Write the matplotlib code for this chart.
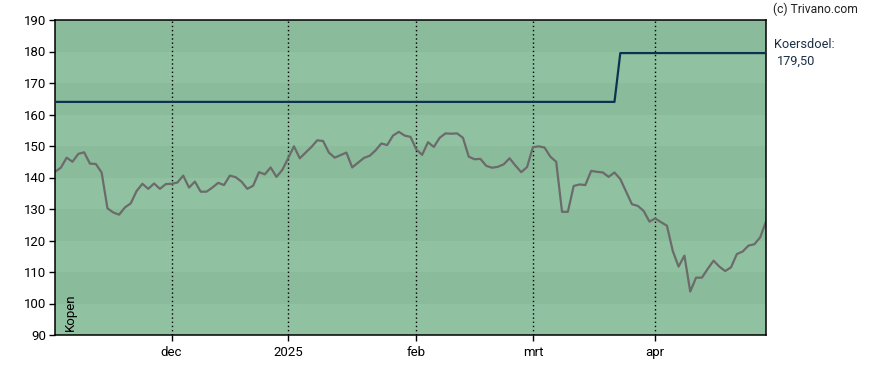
import numpy as np
import matplotlib.pyplot as plt

# koers per handelsdag (index 0 = begin nov 2024)
prices = [
    141.8, 143.1, 146.3, 145.0, 147.5, 148.0, 144.4, 144.3, 141.6, 130.2,
    128.9, 128.2, 130.5, 131.8, 135.7, 138.0, 136.4, 138.1, 136.4, 137.9,
    138.0, 138.4, 140.6, 136.8, 138.7, 135.5, 135.5, 136.8, 138.3, 137.6,
    140.6, 140.1, 138.7, 136.4, 137.4, 141.7, 141.0, 143.2, 140.2, 142.4,
    146.1, 149.9, 146.1, 147.9, 149.7, 151.8, 151.6, 147.9, 146.3, 147.1,
    147.9, 143.2, 144.7, 146.2, 146.9, 148.6, 150.8, 150.3, 153.3, 154.5,
    153.3, 152.9, 148.9, 147.2, 151.2, 149.7, 152.6, 154.0, 153.9, 154.0,
    152.6, 146.6, 145.8, 145.9, 143.7, 143.1, 143.4, 144.2, 146.1, 143.8,
    141.7, 143.3, 149.6, 149.9, 149.5, 146.6, 145.0, 129.1, 129.1, 137.3,
    137.8, 137.6, 142.1, 141.8, 141.6, 140.2, 141.6, 139.5, 135.5, 131.5,
    131.0, 129.4, 126.0, 127.0, 125.8, 124.7, 116.7, 111.7, 115.2, 103.8,
    108.2, 108.2, 111.0, 113.6, 111.7, 110.3, 111.5, 115.7, 116.5, 118.4,
    118.8, 121.0, 126.0,
]
target_old = 164.0
target_new = 179.5
target_change_idx = 97

month_idx = [20, 40, 62, 82, 103]
month_labels = ["dec", "2025", "feb", "mrt", "apr"]
y_ticks = list(range(90, 191, 10))

plt.rcParams["font.family"] = ["Roboto", "DejaVu Sans"]

n = len(prices)
x = np.arange(n)
target = np.where(x < target_change_idx, target_old, target_new)

fig = plt.figure(figsize=(8.88, 3.7), dpi=100)
ax = fig.add_axes([55 / 888, 1 - 335 / 370, 711 / 888, 315 / 370])

# achtergrondbanden
for lo in range(90, 190, 10):
    col = "#8abb9a" if (lo // 10) % 2 == 0 else "#90c2a2"
    ax.axhspan(lo, lo + 10, color=col, lw=0, zorder=0)

for m in month_idx:
    ax.axvline(m, color="black", lw=1.0, linestyle=(0, (1, 2)), zorder=1)

ax.plot(x, target, color="#0b3350", lw=1.6, zorder=3)
ax.plot(x, prices, color="#6b6b6b", lw=1.6, zorder=2)

ax.set_xlim(0, n - 1)
ax.set_ylim(90, 190)
ax.set_yticks(y_ticks)
ax.set_xticks(month_idx)
ax.set_xticklabels(month_labels)
ax.tick_params(axis="both", labelsize=9.5, length=4, width=1, direction="out",
               colors="black", pad=2)
ax.tick_params(axis="x", pad=4)
for s in ax.spines.values():
    s.set_linewidth(1.1)
    s.set_color("black")

ax.text(0.012, 0.012, "Kopen", rotation=90, transform=ax.transAxes,
        fontsize=9.5, ha="left", va="bottom", color="black")

fig.text(773 / 888, 1 - 9 / 370, "(c) Trivano.com", fontsize=8.7, color="#222222",
         ha="left", va="center")
fig.text(774 / 888, 1 - 44 / 370, "Koersdoel:", fontsize=9.2, color="#1b2f45",
         ha="left", va="center")
fig.text(777 / 888, 1 - 61 / 370, "179,50", fontsize=9.2, color="#1b2f45",
         ha="left", va="center")

fig.savefig("out.png", dpi=100)
